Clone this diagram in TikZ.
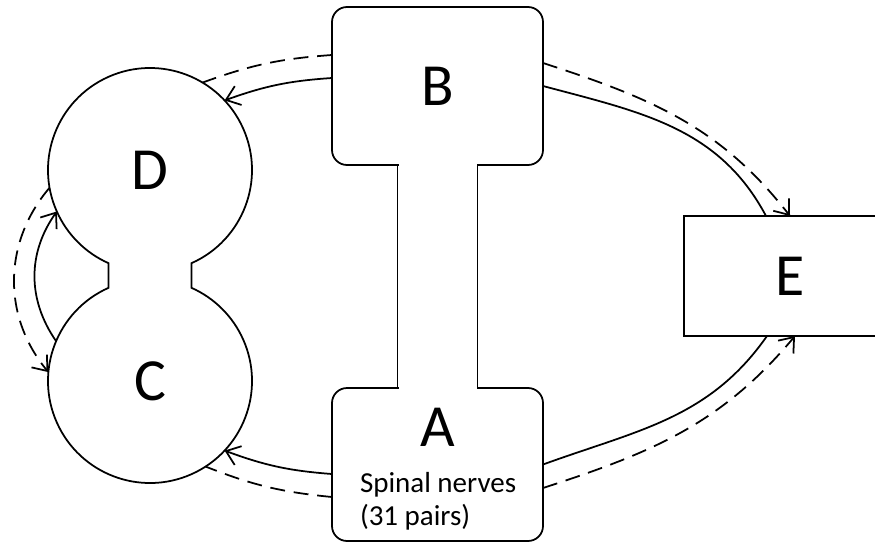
\documentclass[tikz,border=0pt]{standalone}
\usepackage{fontspec}
\setmainfont{Carlito}
\usetikzlibrary{arrows.meta}

\begin{document}
\begin{tikzpicture}[line width=1pt,
	every node/.style={font=\fontsize{34}{40}\selectfont, inner sep=0pt, outer sep=0pt},
	part/.style={draw, rounded corners=0.3cm, minimum width=4.22cm},
	lobe/.style={circle, minimum size=4.08cm},
	tip/.style={-{Straight Barb[length=2.6mm, width=4mm]}},
	back/.style={dash pattern=on 8.5pt off 5pt}]
	\useasboundingbox (0,0) rectangle (17.5,10.9);
	\clip (0,0) rectangle (17.5,10.9);
	\node[part, minimum height=3.16cm] (B) at (8.75,9.18) {B};
	\node[part, minimum height=3.06cm] (A) at (8.75,1.61) {};
	\fill[white] ([xshift=-0.78cm, yshift=0.05cm]B.south) rectangle ([xshift=0.78cm, yshift=-0.05cm]A.north);
	\draw ([xshift=-0.8cm]B.south) -- ([xshift=-0.8cm]A.north);
	\draw ([xshift=0.8cm]B.south) -- ([xshift=0.8cm]A.north);
	\node (Aletter) at (8.76,2.36) {A};
	\node[font=\fontsize{16.5}{19}\selectfont, align=left, anchor=west] (Atext) at (7.2,0.87) {Spinal nerves\\(31 pairs)};
	\node[lobe] (D) at (3,7.5) {D};
	\node[lobe] (C) at (3,3.28) {C};
	\draw (D.-66) arc[start angle=-66, end angle=246, radius=2.04] -- (C.114) arc[start angle=114, end angle=426, radius=2.04] -- cycle;
	\node[draw, minimum width=4.24cm, minimum height=2.4cm] (E) at (15.8,5.38) {E};
	\draw[tip] ([yshift=0.16cm]B.west) to[bend right=8] (D.43);
	\draw[back] ([yshift=0.62cm]B.west) to[bend right=8] (D.59);
	\draw (B.east) to[out=-15, in=118] ([xshift=-0.48cm]E.north);
	\draw[back, tip] ([yshift=0.46cm]B.east) to[out=-18, in=128] (E.north);
	\draw (A.east) to[out=20, in=-125] ([xshift=-0.46cm]E.south);
	\draw[back, tip] ([yshift=-0.47cm]A.east) to[out=18, in=-130] ([xshift=0.1cm]E.south);
	\draw[tip] ([yshift=-0.19cm]A.west) to[bend left=8] (C.-43);
	\draw[back] ([yshift=-0.65cm]A.west) to[bend left=8] (C.-57);
	\draw[tip] (C.157) to[bend left=35] (D.204);
	\draw[back, tip] (D.190) to[bend right=40] (C.175);
\end{tikzpicture}
\end{document}
